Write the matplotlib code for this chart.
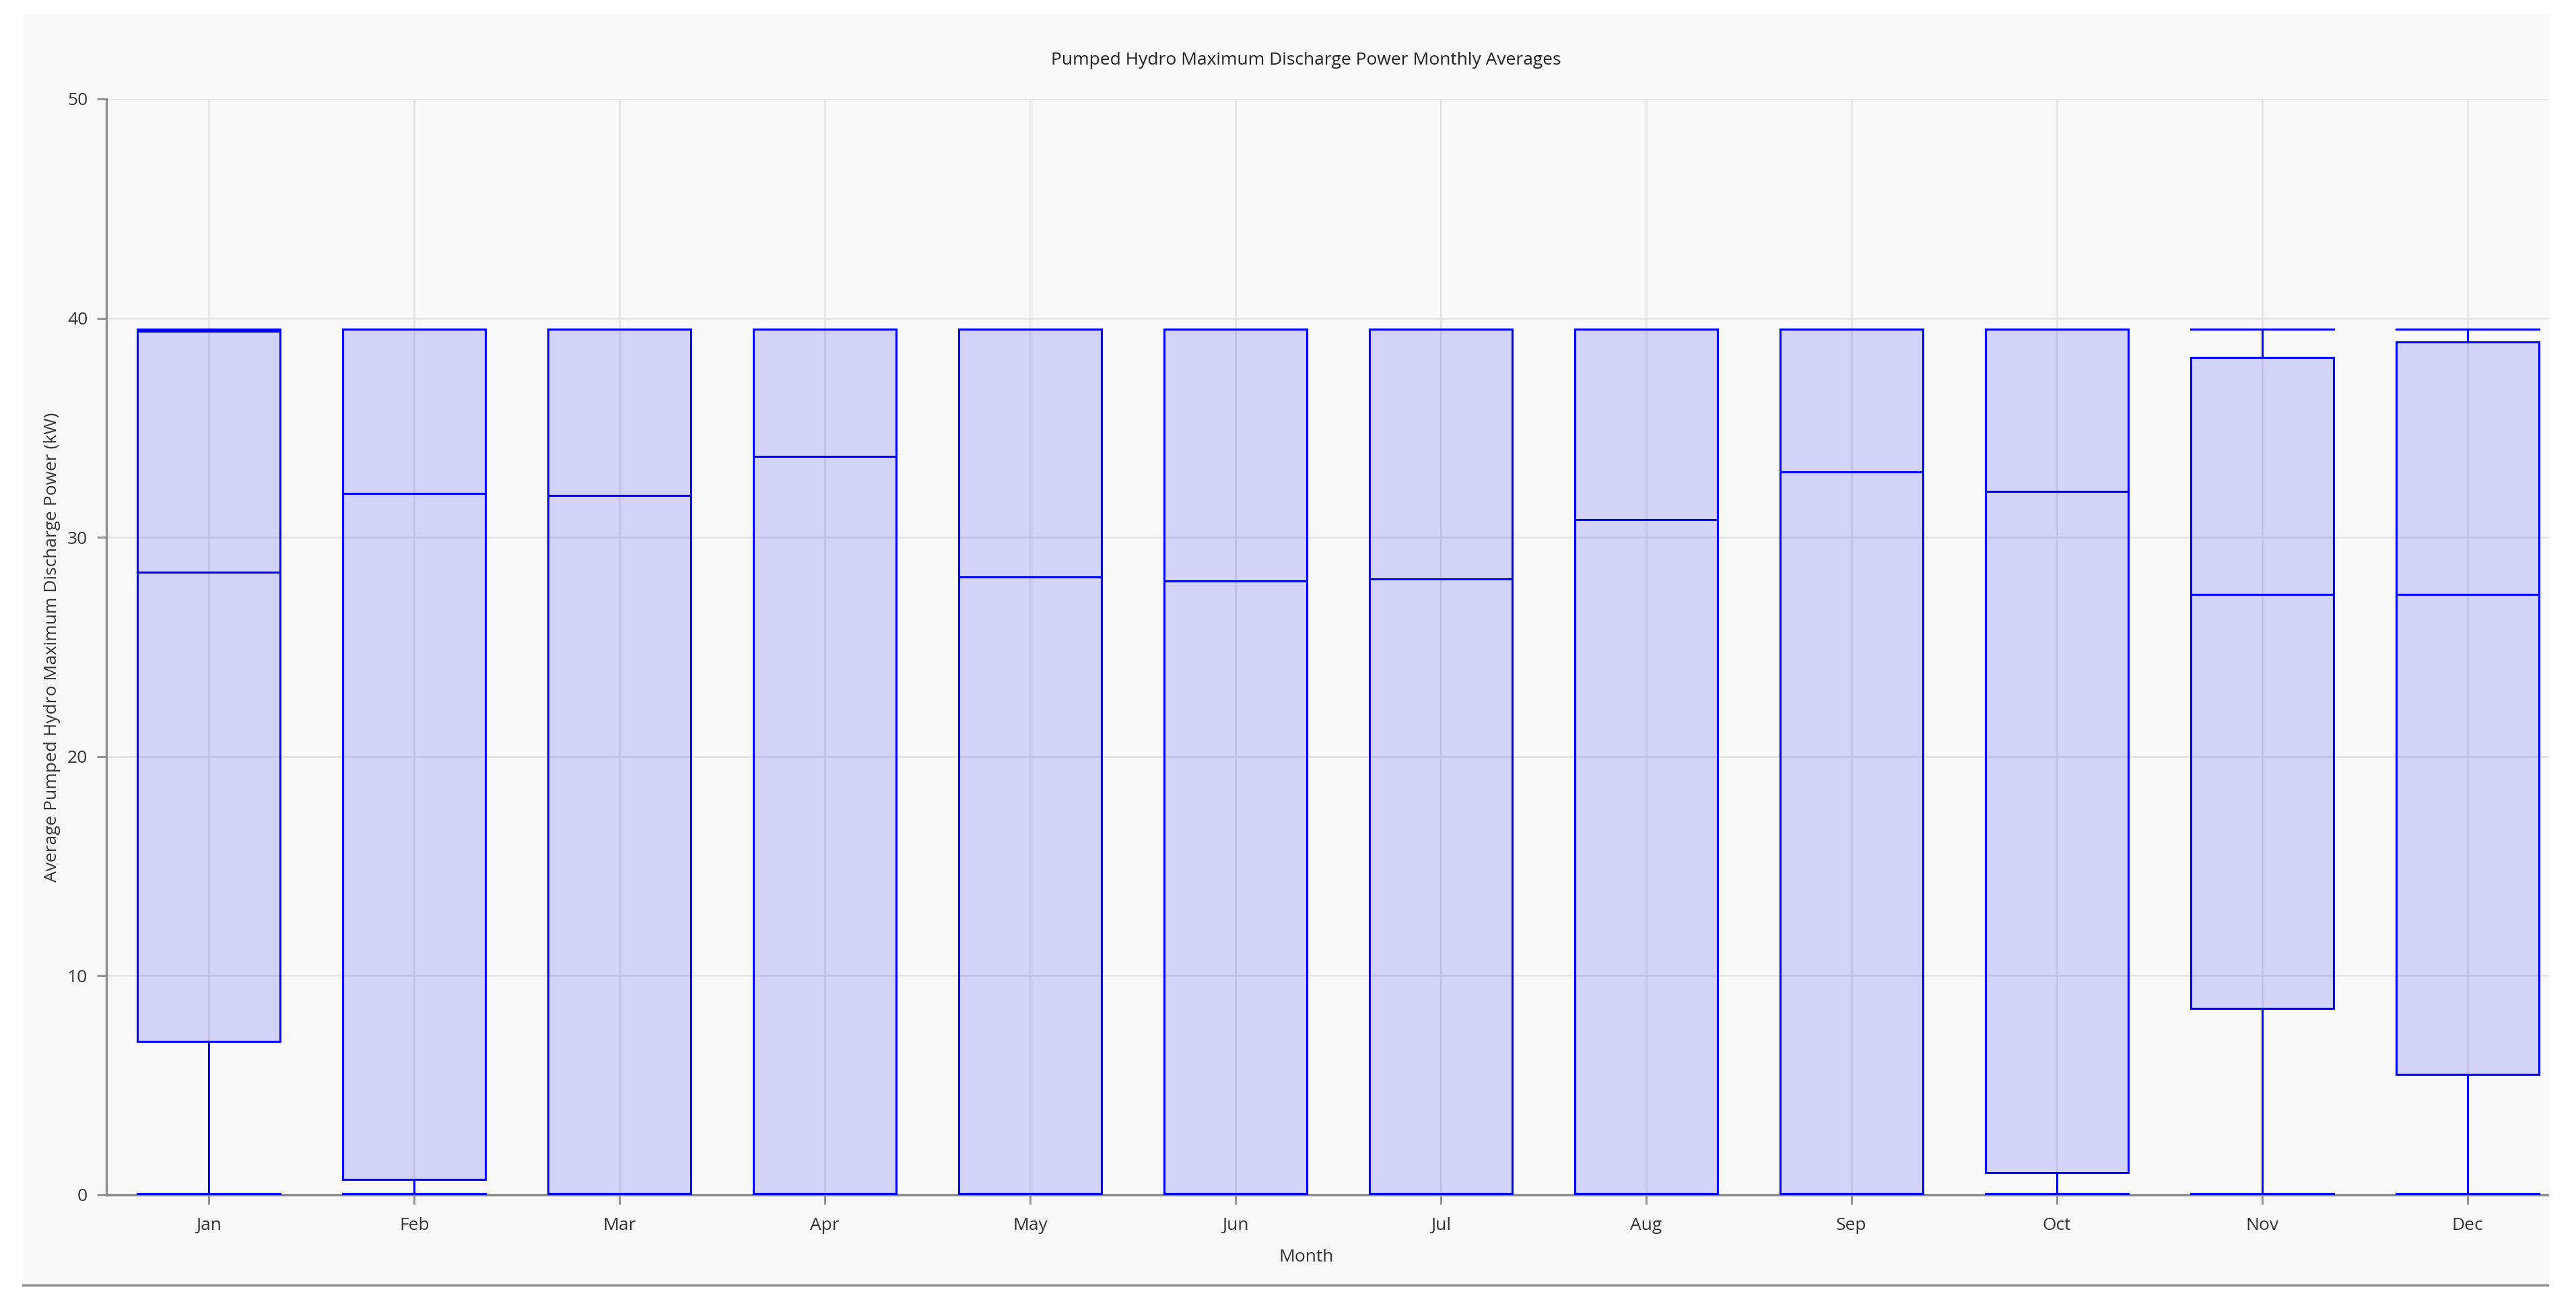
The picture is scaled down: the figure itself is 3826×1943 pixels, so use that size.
import matplotlib
matplotlib.use("Agg")
import matplotlib.pyplot as plt
from matplotlib.patches import Rectangle

plt.rcParams['font.family'] = ['Open Sans', 'DejaVu Sans']

months = ["Jan", "Feb", "Mar", "Apr", "May", "Jun", "Jul", "Aug", "Sep", "Oct", "Nov", "Dec"]
whisker_low = [0.05, 0.05, 0.05, 0.05, 0.05, 0.05, 0.05, 0.05, 0.05, 0.05, 0.05, 0.05]
q1 = [7.0, 0.7, 0.05, 0.05, 0.05, 0.05, 0.05, 0.05, 0.05, 1.0, 8.5, 5.5]
median = [28.4, 32.0, 31.9, 33.7, 28.2, 28.0, 28.1, 30.8, 33.0, 32.1, 27.4, 27.4]
q3 = [39.4, 39.5, 39.5, 39.5, 39.5, 39.5, 39.5, 39.5, 39.5, 39.5, 38.2, 38.9]
whisker_high = [39.5, 39.5, 39.5, 39.5, 39.5, 39.5, 39.5, 39.5, 39.5, 39.5, 39.5, 39.5]

stats = []
for i, m in enumerate(months):
    stats.append(dict(label=m, whislo=whisker_low[i], q1=q1[i], med=median[i],
                      q3=q3[i], whishi=whisker_high[i], fliers=[]))

W, H = 3826, 1943
fig = plt.figure(figsize=(W / 100, H / 100), dpi=100, facecolor="white")

# light panel behind the chart
fig.patches.append(Rectangle((34 / W, 1 - 1907 / H), (3786 - 34) / W, (1907 - 21) / H,
                             transform=fig.transFigure, facecolor="#f8f8f8",
                             edgecolor="none", zorder=-10))
fig.lines.append(plt.Line2D([34 / W, 3786 / W], [1 - 1909 / H, 1 - 1909 / H],
                            transform=fig.transFigure, color="#8c8c8c", lw=2.5, zorder=-5))
# the plot runs past the panel edge and gets cut off there
fig.patches.append(Rectangle((3786 / W, 0), (W - 3786) / W, 1,
                             transform=fig.transFigure, facecolor="white",
                             edgecolor="none", zorder=10))

ax = fig.add_axes([158 / W, 1 - 1775 / H, (3817 - 158) / W, (1775 - 147) / H])
ax.set_facecolor("#f8f8f8")

blue = "#0000ff"
lw = 2.2
ax.bxp(stats, positions=range(1, 13), widths=0.695, patch_artist=True, showfliers=False,
       boxprops=dict(facecolor=(0, 0, 1, 0.15), edgecolor=blue, linewidth=lw),
       medianprops=dict(color=blue, linewidth=lw),
       whiskerprops=dict(color=blue, linewidth=lw),
       capprops=dict(color=blue, linewidth=lw),
       capwidths=0.695, zorder=3)

ax.set_xlim(0.5, 12.5)
ax.set_ylim(0, 50)
ax.set_yticks([0, 10, 20, 30, 40, 50])
ax.set_xticks(range(1, 13))
ax.set_xticklabels(months)

ax.grid(True, color="#e4e4e4", linewidth=2, zorder=0)
ax.set_axisbelow(True)

for s in ["top", "right"]:
    ax.spines[s].set_visible(False)
for s in ["left", "bottom"]:
    ax.spines[s].set_color("#8c8c8c")
    ax.spines[s].set_linewidth(2.5)

ax.tick_params(axis="both", colors="#8c8c8c", length=10, width=2, labelsize=19,
               labelcolor="#333333")
ax.tick_params(axis="x", pad=14)
ax.tick_params(axis="y", pad=10)

fig.text(1940 / W, 1 - 90 / H, "Pumped Hydro Maximum Discharge Power Monthly Averages",
         ha="center", va="center", fontsize=19, color="#222222")
fig.text(1940 / W, 1 - 1868 / H, "Month", ha="center", va="center", fontsize=19, color="#333333")
fig.text(78 / W, (1 - 1775 / H + 1 - 147 / H) / 2, "Average Pumped Hydro Maximum Discharge Power (kW)",
         ha="center", va="center", rotation=90, fontsize=19, color="#333333")

fig.savefig("out.png", dpi=100, facecolor="white")
